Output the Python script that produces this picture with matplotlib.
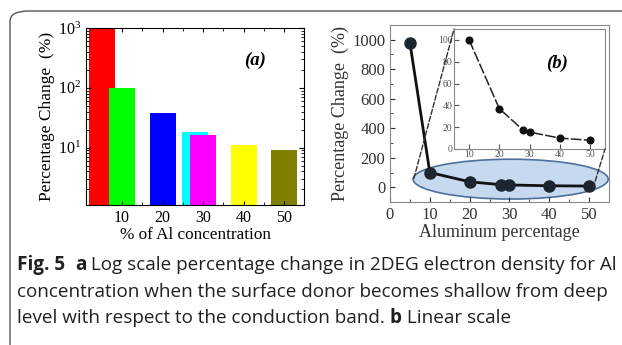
import matplotlib
matplotlib.use('Agg')
import matplotlib.pyplot as plt
from matplotlib.patches import Ellipse, FancyBboxPatch, ConnectionPatch

plt.rcParams['font.family'] = 'Liberation Serif'
plt.rcParams['mathtext.fontset'] = 'custom'
plt.rcParams['mathtext.rm'] = 'Liberation Serif'

# data
al_pct = [5, 10, 20, 28, 30, 40, 50]
pct_change = [980, 100, 37, 17, 15.5, 10, 8]
bar_colors = ['#ff0000', '#00ff00', '#0000ff', '#00ffff', '#ff00ff', '#ffff00', '#808000']
inset_x = al_pct[1:]
inset_y = pct_change[1:]

fig = plt.figure(figsize=(6.22, 3.45), dpi=100)

# rounded frame around the figure panel (runs off the right and bottom)
box = FancyBboxPatch((10/622, -40/345), 700/622, 374/345, boxstyle='round,pad=0,rounding_size=0.03',
                     transform=fig.transFigure, fill=False, ec='#555555', lw=1.0)
fig.patches.append(box)

########## (a) log scale bars
ax1 = fig.add_axes([86/622, 1-205/345, 218/622, 177/345])
for x, v, c in zip(al_pct, pct_change, bar_colors):
    ax1.bar(x, v, width=6.4, color=c, bottom=1.0)
ax1.set_yscale('log')
ax1.set_ylim(1.1, 1000)
ax1.set_xlim(1.1, 54.9)
ax1.set_xticks([10, 20, 30, 40, 50])
ax1.set_xticks([15, 25, 35, 45], minor=True)
ax1.tick_params(which='both', direction='in', top=True, right=True, labelsize=11.5)
ax1.tick_params(axis='x', which='major', length=3)
ax1.set_xlabel('% of Al concentration', fontsize=12.3, labelpad=1)
ax1.set_ylabel('Percentage Change  (%)', fontsize=12.5, labelpad=2)
ax1.text(0.775, 0.82, '(a)', transform=ax1.transAxes, fontsize=13.5, fontweight='bold',
         fontstyle='italic', ha='center', va='center')

########## (b) linear scale
ax2 = fig.add_axes([390/622, 1-202/345, 219/622, 177/345])
ell = Ellipse((30.3, 55), 49, 270, fc='#c6d9ef', ec='#4f6f9c', lw=1.2, zorder=1)
ax2.add_patch(ell)
ax2.plot(al_pct, pct_change, '-', color='#111111', lw=2.0, zorder=3)
ax2.plot(al_pct, pct_change, 'o', color='#1c2530', ms=8, zorder=4)
ax2.set_xlim(0, 55)
ax2.set_ylim(-100, 1100)
ax2.set_xticks([0, 10, 20, 30, 40, 50])
ax2.set_xticks([5, 15, 25, 35, 45, 55], minor=True)
ax2.set_yticks([0, 200, 400, 600, 800, 1000])
ax2.set_yticks([-100, 100, 300, 500, 700, 900], minor=True)
ax2.tick_params(which='both', direction='in', labelsize=12, colors='#333333')
for s in ax2.spines.values():
    s.set_color('#888888')
ax2.set_xlabel('Aluminum percentage', fontsize=13, color='#333333', labelpad=1)
ax2.set_ylabel('Percentage Change  (%)', fontsize=13, color='#333333', labelpad=2)

# inset
ax3 = fig.add_axes([454/622, 1-149/345, 151/622, 120/345])
ax3.plot(inset_x, inset_y, color='#222222', lw=1.1, ls=(0, (7, 1.5)))
ax3.plot(inset_x, inset_y, 'o', color='#111111', ms=4.8)
ax3.set_xlim(5, 55)
ax3.set_ylim(0, 110)
ax3.set_xticks([10, 20, 30, 40, 50])
ax3.set_yticks([0, 20, 40, 60, 80, 100])
ax3.tick_params(which='both', direction='in', labelsize=7, pad=1, colors='#555555')
for s in ax3.spines.values():
    s.set_color('#888888')
ax3.text(557/622, 1-63/345, '(b)', transform=fig.transFigure, fontsize=13.5, fontweight='bold',
         fontstyle='italic', ha='center', va='center')

for xyA, xyB in [((6, 60), (0, 1)), ((51, -5), (1, 0))]:
    con = ConnectionPatch(xyA=xyA, coordsA='data', axesA=ax2, xyB=xyB, coordsB='axes fraction',
                          axesB=ax3, ls='--', color='#333333', lw=1.0)
    fig.add_artist(con)

########## caption
cap_font = 'Open Sans'
lines = [
    [('Fig. 5', True), ('  ', False), ('a', True), (' Log scale percentage change in 2DEG electron density for Al', False)],
    [('concentration when the surface donor becomes shallow from deep', False)],
    [('level with respect to the conduction band. ', False), ('b', True), (' Linear scale', False)],
]
fig.canvas.draw()
r = fig.canvas.get_renderer()
ys = [265, 292, 318]
for parts, y in zip(lines, ys):
    x = 17
    for txt, bold in parts:
        t = fig.text(x/622, 1-y/345, txt, fontsize=13.6, family=cap_font, color='#231f20',
                     fontweight='bold' if bold else 'normal', va='center', ha='left')
        bb = t.get_window_extent(renderer=r)
        x += bb.width

fig.savefig('out.png', dpi=100)
